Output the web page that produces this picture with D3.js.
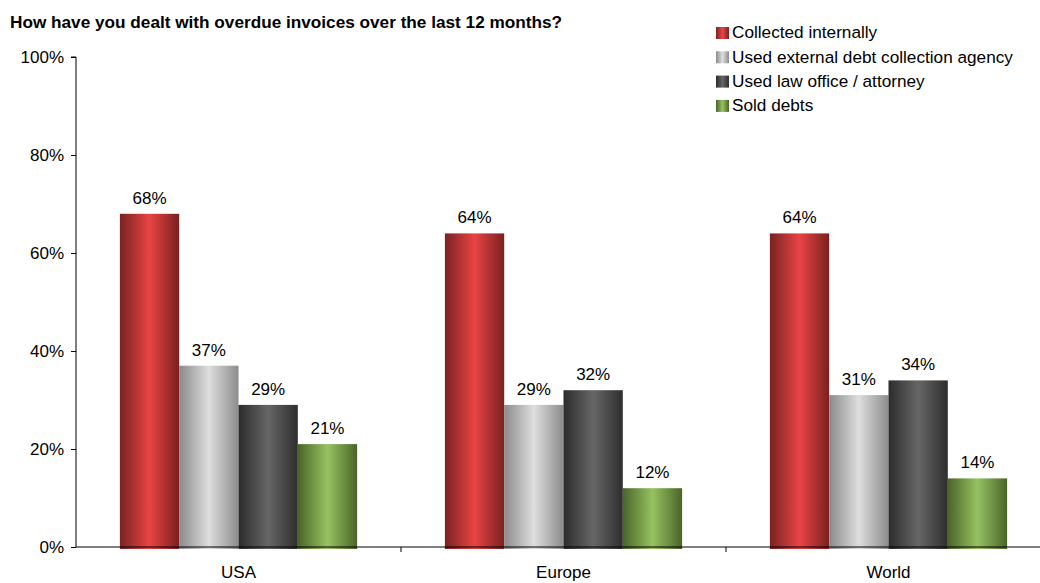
<!DOCTYPE html>
<html>
<head>
<meta charset="utf-8">
<script src="https://cdn.jsdelivr.net/npm/d3@7"></script>
<style>
  html, body { margin: 0; padding: 0; background: #fff; }
  svg { display: block; font-family: "Liberation Sans", Arial, sans-serif; }
</style>
</head>
<body>
<svg id="chart" width="1040" height="583"></svg>
<script>
// Survey responses by region (percent of respondents)
const categories = ["USA", "Europe", "World"];
const seriesNames = [
  "Collected internally",
  "Used external debt collection agency",
  "Used law office / attorney",
  "Sold debts"
];
const collectedInternally = [68, 64, 64];
const externalAgency = [37, 29, 31];
const lawOffice = [29, 32, 34];
const soldDebts = [21, 12, 14];
const yTicks = [0, 20, 40, 60, 80, 100];

const seriesValues = [collectedInternally, externalAgency, lawOffice, soldDebts];

// Cylinder-like shading: edge, centre, edge
const shades = [
  ["#7a2222", "#e94444", "#7a2020"],
  ["#8a8a8a", "#dedede", "#8c8c8c"],
  ["#2c2c2c", "#666666", "#2e2e2e"],
  ["#4a6428", "#97c262", "#4a6428"]
];

const svg = d3.select("#chart");
const x0 = 76, x1 = 1051, yTop = 57, yBot = 547;
const FS = 17;

const defs = svg.append("defs");
shades.forEach((s, i) => {
  const g = defs.append("linearGradient")
    .attr("id", "grad" + i)
    .attr("x1", "0%").attr("x2", "100%").attr("y1", "0%").attr("y2", "0%");
  g.append("stop").attr("offset", "0%").attr("stop-color", s[0]);
  g.append("stop").attr("offset", "50%").attr("stop-color", s[1]);
  g.append("stop").attr("offset", "100%").attr("stop-color", s[2]);
});

const x = d3.scaleBand().domain(categories).range([x0, x1]).paddingInner(0).paddingOuter(0);
const xs = d3.scaleBand().domain(d3.range(seriesNames.length))
  .range([0, x.bandwidth()]).paddingInner(0).paddingOuter(0.74);
const y = d3.scaleLinear().domain([0, 100]).range([yBot, yTop]);

// Title
svg.append("text")
  .attr("x", 10).attr("y", 28)
  .attr("font-size", 17.2).attr("font-weight", "bold").attr("fill", "#000")
  .text("How have you dealt with overdue invoices over the last 12 months?");

// Bars
const groups = svg.append("g").selectAll("g")
  .data(categories).join("g")
  .attr("transform", d => `translate(${x(d)},0)`);

groups.selectAll("rect")
  .data((d, ci) => seriesValues.map((vals, si) => ({ si, v: vals[ci] })))
  .join("rect")
  .attr("x", d => xs(d.si))
  .attr("y", d => y(d.v))
  .attr("width", xs.bandwidth())
  .attr("height", d => y(0) - y(d.v) + 2)
  .attr("fill", d => `url(#grad${d.si})`);

groups.selectAll("text.val")
  .data((d, ci) => seriesValues.map((vals, si) => ({ si, v: vals[ci] })))
  .join("text")
  .attr("class", "val")
  .attr("x", d => xs(d.si) + xs.bandwidth() / 2)
  .attr("y", d => y(d.v) - 10)
  .attr("text-anchor", "middle")
  .attr("font-size", FS).attr("fill", "#000")
  .text(d => d.v + "%");

// Y axis
const yAxis = d3.axisLeft(y).tickValues(yTicks).tickSize(5).tickFormat(d => d + "%");
const yg = svg.append("g").attr("transform", `translate(${x0},0)`).call(yAxis);
yg.select(".domain").attr("stroke", "#000").attr("d", `M-5,${yTop}H0V${yBot}`);
yg.selectAll(".tick line").attr("stroke", "#000");
yg.selectAll(".tick text").attr("font-size", FS).attr("fill", "#000")
  .attr("font-family", "Liberation Sans, Arial, sans-serif").attr("x", -12);

// X axis
const xAxis = d3.axisBottom(x).tickSize(0).tickSizeOuter(0);
const xg = svg.append("g").attr("transform", `translate(0,${yBot})`).call(xAxis);
xg.select(".domain").attr("stroke", "#000").attr("d", `M${x0},0H${x1}`);
xg.selectAll(".tick text").attr("font-size", FS).attr("fill", "#000")
  .attr("font-family", "Liberation Sans, Arial, sans-serif").attr("dy", 0).attr("y", 31);
// Category separator ticks
xg.selectAll("line.sep")
  .data(categories.slice(1)).join("line")
  .attr("class", "sep")
  .attr("x1", d => x(d)).attr("x2", d => x(d))
  .attr("y1", 0).attr("y2", 5).attr("stroke", "#000");

// Legend
const legend = svg.append("g").attr("transform", "translate(716,21)");
const li = legend.selectAll("g").data(seriesNames).join("g")
  .attr("transform", (d, i) => `translate(0,${i * 24.3})`);
li.append("rect").attr("x", 0).attr("y", 6).attr("width", 13).attr("height", 12)
  .attr("fill", (d, i) => `url(#grad${i})`);
li.append("text").attr("x", 16).attr("y", 17.3)
  .attr("font-size", 17.2).attr("fill", "#000")
  .text(d => d);
</script>
</body>
</html>
